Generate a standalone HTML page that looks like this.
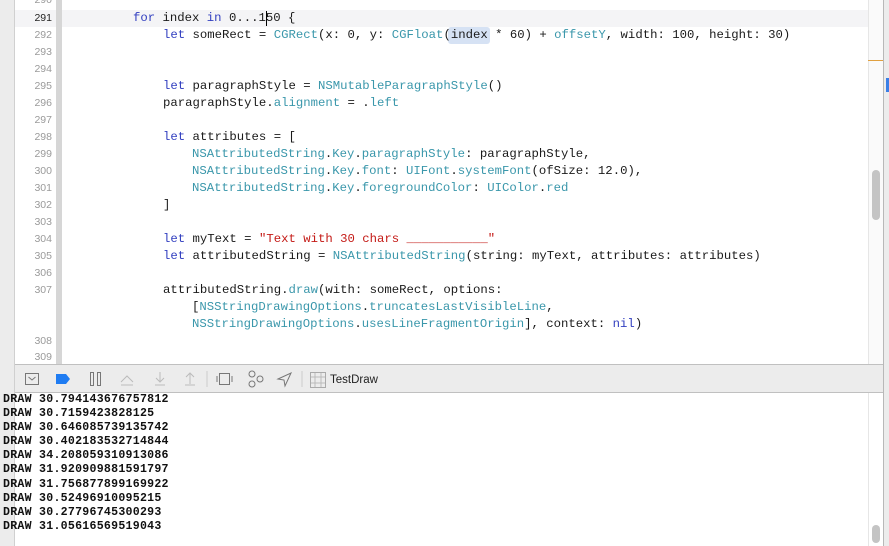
<!DOCTYPE html>
<html><head><meta charset="utf-8"><style>
body{margin:0;width:889px;height:546px;overflow:hidden;background:#fff;position:relative;font-family:"Liberation Mono",monospace}
.abs{position:absolute}
.ln{position:absolute;left:15px;width:37px;text-align:right;font-family:"Liberation Sans",sans-serif;font-size:10.5px;color:#9a9a9a;line-height:17px}
.code{position:absolute;left:0;font-size:12.3px;line-height:17px;white-space:pre;color:#1a1a1a}
.k{color:#3340c0}.t{color:#3a97ab}.s{color:#c41a16}
.con{position:absolute;left:3px;font-size:11.6px;letter-spacing:0.25px;font-weight:bold;white-space:pre;line-height:14.1px;color:#111;z-index:2}
</style></head><body>
<div class="abs" style="left:0;top:0;width:14px;height:546px;background:#ececec;border-right:1px solid #d0d0d0"></div>
<div class="abs" style="left:15px;top:10px;width:853px;height:17px;background:#f4f4f6"></div>
<div class="abs" style="left:56px;top:0;width:6px;height:364px;background:#d6d6d6"></div>
<div class="abs" style="left:868px;top:0;width:1px;height:364px;background:#e6e6e6"></div>
<div class="abs" style="left:869px;top:0;width:14px;height:364px;background:#fafafa"></div>
<div class="abs" style="left:872px;top:170px;width:8px;height:50px;background:#c4c4c4;border-radius:4px"></div>
<div class="abs" style="left:883px;top:0;width:1px;height:546px;background:#b8b8b8"></div>
<div class="abs" style="left:884px;top:0;width:5px;height:546px;background:#ececec"></div>
<div class="abs" style="left:868px;top:60px;width:15px;height:1px;background:#e0a040"></div>
<div class="abs" style="left:886px;top:78px;width:3px;height:14px;background:#3a7fe6"></div>

<div class="ln" style="top:-8px">290</div>
<div class="ln" style="top:10px;color:#222">291</div>
<div class="ln" style="top:27px">292</div>
<div class="ln" style="top:44px">293</div>
<div class="ln" style="top:61px">294</div>
<div class="ln" style="top:78px">295</div>
<div class="ln" style="top:95px">296</div>
<div class="ln" style="top:112px">297</div>
<div class="ln" style="top:129px">298</div>
<div class="ln" style="top:146px">299</div>
<div class="ln" style="top:163px">300</div>
<div class="ln" style="top:180px">301</div>
<div class="ln" style="top:197px">302</div>
<div class="ln" style="top:214px">303</div>
<div class="ln" style="top:231px">304</div>
<div class="ln" style="top:248px">305</div>
<div class="ln" style="top:265px">306</div>
<div class="ln" style="top:282px">307</div>
<div class="ln" style="top:333px">308</div>
<div class="ln" style="top:349px">309</div>

<div class="abs" style="left:448px;top:27px;width:42px;height:17px;background:#d6e2f4;border-radius:3px"></div>
<div class="abs" style="left:266px;top:11px;width:1px;height:15px;background:#000"></div>
<div class="code" style="top:10px;left:133px"><span class="k">for</span> index <span class="k">in</span> 0...150 {</div>
<div class="code" style="top:27px;left:163px"><span class="k">let</span> someRect = <span class="t">CGRect</span>(x: 0, y: <span class="t">CGFloat</span>(index * 60) + <span class="t">offsetY</span>, width: 100, height: 30)</div>
<div class="code" style="top:78px;left:163px"><span class="k">let</span> paragraphStyle = <span class="t">NSMutableParagraphStyle</span>()</div>
<div class="code" style="top:95px;left:163px">paragraphStyle.<span class="t">alignment</span> = .<span class="t">left</span></div>
<div class="code" style="top:129px;left:163px"><span class="k">let</span> attributes = [</div>
<div class="code" style="top:146px;left:192px"><span class="t">NSAttributedString</span>.<span class="t">Key</span>.<span class="t">paragraphStyle</span>: paragraphStyle,</div>
<div class="code" style="top:163px;left:192px"><span class="t">NSAttributedString</span>.<span class="t">Key</span>.<span class="t">font</span>: <span class="t">UIFont</span>.<span class="t">systemFont</span>(ofSize: 12.0),</div>
<div class="code" style="top:180px;left:192px"><span class="t">NSAttributedString</span>.<span class="t">Key</span>.<span class="t">foregroundColor</span>: <span class="t">UIColor</span>.<span class="t">red</span></div>
<div class="code" style="top:197px;left:163px">]</div>
<div class="code" style="top:231px;left:163px"><span class="k">let</span> myText = <span class="s">"Text with 30 chars ___________"</span></div>
<div class="code" style="top:248px;left:163px"><span class="k">let</span> attributedString = <span class="t">NSAttributedString</span>(string: myText, attributes: attributes)</div>
<div class="code" style="top:282px;left:163px">attributedString.<span class="t">draw</span>(with: someRect, options:</div>
<div class="code" style="top:299px;left:192px">[<span class="t">NSStringDrawingOptions</span>.<span class="t">truncatesLastVisibleLine</span>,</div>
<div class="code" style="top:316px;left:192px"><span class="t">NSStringDrawingOptions</span>.<span class="t">usesLineFragmentOrigin</span>], context: <span class="k">nil</span>)</div>

<div class="abs" style="left:15px;top:364px;width:868px;height:27px;background:#ececec;border-top:1px solid #c0c0c0;border-bottom:1px solid #c0c0c0"></div>
<svg class="abs" style="left:15px;top:365px" width="400" height="27" viewBox="0 0 400 27">
<g fill="none" stroke="#777" stroke-width="1">
<rect x="10.5" y="8.5" width="13" height="11"/><path d="M13.5 12l3.5 3 3.5-3"/>
<rect x="75.5" y="7.5" width="3" height="13"/><rect x="82.5" y="7.5" width="3" height="13"/>
<path d="M106 17l6-6 6 6M106 20h12" stroke="#bbb"/>
<path d="M145 7v9M141 13l4 4 4-4M140 20h10" stroke="#bbb"/>
<path d="M175 19V9M171 12l4-4 4 4M170 20h10" stroke="#bbb"/>
<path d="M192 6v16M287 6v16" stroke="#ccc"/>
<rect x="204.5" y="8.5" width="10" height="11"/><path d="M202 11v6M217 11v6"/>
<circle cx="237" cy="9" r="3"/><circle cx="237" cy="19" r="3"/><circle cx="245" cy="14" r="3"/>
<path d="M263 14l13-6-6 13-1-6z"/>
<rect x="295.5" y="7.5" width="15" height="15" stroke="#aaa"/><path d="M300 8v14M306 8v14M296 12h14M296 18h14" stroke="#bbb"/>
</g>
<path d="M41 9h10l4 5-4 5h-10z" fill="#1f7cf2"/>
<text x="315" y="18" font-family="Liberation Sans,sans-serif" font-size="11.5" fill="#222">TestDraw</text>
</svg>

<div class="con" style="top:393px">DRAW 30.794143676757812
DRAW 30.7159423828125
DRAW 30.646085739135742
DRAW 30.402183532714844
DRAW 34.208059310913086
DRAW 31.920909881591797
DRAW 31.756877899169922
DRAW 30.52496910095215
DRAW 30.27796745300293
DRAW 31.05616569519043</div>
<div class="abs" style="left:868px;top:393px;width:1px;height:153px;background:#e6e6e6"></div>
<div class="abs" style="left:872px;top:525px;width:8px;height:18px;background:#c4c4c4;border-radius:4px"></div>
</body></html>
